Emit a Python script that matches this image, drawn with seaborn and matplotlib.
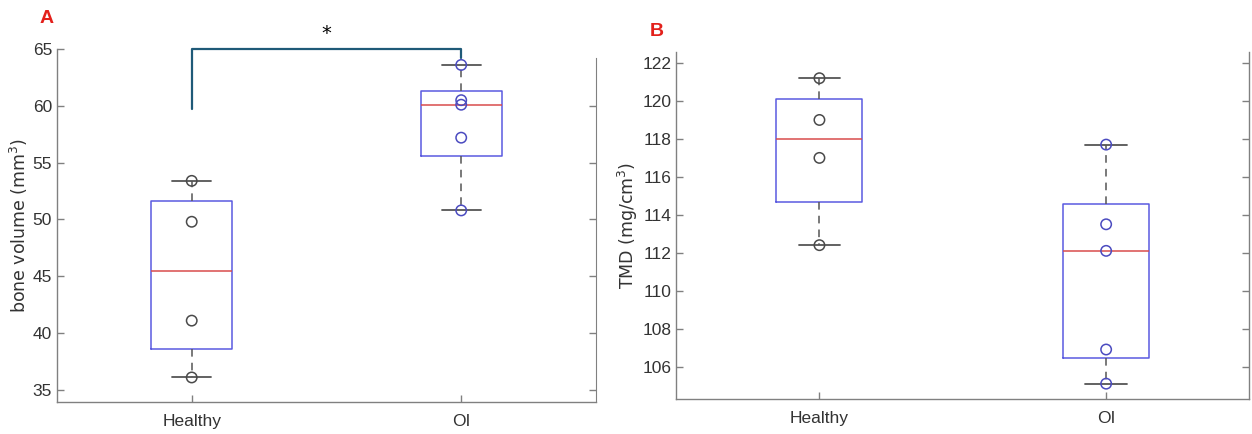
import numpy as np
import pandas as pd
import seaborn as sns
import matplotlib.pyplot as plt

sns.set_style('white')
plt.rcParams['font.family'] = ['Liberation Sans Narrow', 'Liberation Sans', 'DejaVu Sans']

groups = ['Healthy', 'OI']

# A: bone volume (mm^3)
bv_healthy = [53.4, 49.8, 41.1, 36.1]
bv_oi = [63.6, 60.5, 60.1, 57.2, 50.8]

# B: TMD (mg/cm^3)
tmd_healthy = [121.2, 119.0, 117.0, 112.4]
tmd_oi = [117.7, 113.5, 112.1, 106.9, 105.1]

bv_ticks = [35, 40, 45, 50, 55, 60, 65]
tmd_ticks = [106, 108, 110, 112, 114, 116, 118, 120, 122]

pt_colors = {'Healthy': '#4a4a4a', 'OI': '#4b4bc0'}
txt = '#333333'
spine_c = '#808080'


def matlab_stats(vals):
    # MATLAB boxplot uses midpoint ("hazen") quartiles
    v = np.sort(np.asarray(vals, dtype=float))
    q1, med, q3 = np.percentile(v, [25, 50, 75], method='hazen')
    iqr = q3 - q1
    lo = v[v >= q1 - 1.5 * iqr].min()
    hi = v[v <= q3 + 1.5 * iqr].max()
    return dict(med=med, q1=q1, q3=q3, whislo=lo, whishi=hi, fliers=[])


def panel(ax, healthy, oi, ylabel, ylim, yticks):
    df = pd.DataFrame({'group': ['Healthy'] * len(healthy) + ['OI'] * len(oi),
                       'value': list(healthy) + list(oi)})
    ax.bxp([matlab_stats(healthy), matlab_stats(oi)], positions=[0, 1],
           widths=0.30, capwidths=0.145, showfliers=False, manage_ticks=False,
           boxprops=dict(color='#5a5ae0', lw=1.1),
           medianprops=dict(color='#d94c4c', lw=1.1),
           whiskerprops=dict(color='#555555', lw=1.1, ls=(0, (5, 4))),
           capprops=dict(color='#555555', lw=1.3))
    sns.stripplot(data=df, x='group', y='value', hue='group', order=groups,
                  palette=pt_colors, jitter=False, size=7.5, legend=False,
                  zorder=5, ax=ax)
    for coll in ax.collections:
        fc = coll.get_facecolors()
        coll.set_edgecolors(fc)
        coll.set_facecolors('none')
        coll.set_linewidth(1.1)
    ax.set_xlim(-0.5, 1.5)
    ax.set_ylim(*ylim)
    ax.set_yticks(yticks)
    ax.set_xlabel('')
    ax.set_ylabel(ylabel, fontsize=12.5, color=txt, family=['DejaVu Sans'])
    ax.tick_params(direction='in', length=5, width=1, colors=spine_c,
                   labelcolor=txt, labelsize=12.5, right=True, left=True, bottom=True)
    ax.tick_params(axis='x', pad=9)
    ax.spines['top'].set_visible(False)
    for s in ['left', 'bottom', 'right']:
        ax.spines[s].set_color(spine_c)
        ax.spines[s].set_linewidth(1)


fig = plt.figure(figsize=(12.52, 4.34), dpi=100)
axA = fig.add_axes([0.0455, 0.074, 0.4305, 0.813])
axB = fig.add_axes([0.540, 0.081, 0.458, 0.800])

panel(axA, bv_healthy, bv_oi, 'bone volume (mm$^3$)', (33.95, 65.0), bv_ticks)
# right side of A stops short of the top: own ticks through a twin axis
axA.tick_params(right=False)
axA.spines['right'].set_visible(False)
twA = axA.twinx()
twA.set_ylim(axA.get_ylim())
twA.set_yticks(bv_ticks[:-1])
twA.tick_params(direction='in', length=5, width=1, colors=spine_c, labelright=False)
for s in ['left', 'top', 'bottom']:
    twA.spines[s].set_visible(False)
twA.spines['right'].set_color(spine_c)
twA.spines['right'].set_bounds(33.95, 64.2)
axA.yaxis.set_label_coords(-0.05, 0.5)

panel(axB, tmd_healthy, tmd_oi, 'TMD (mg/cm$^3$)', (104.3, 122.6), tmd_ticks)
axB.yaxis.set_label_coords(-0.063, 0.5)

# significance bracket
axA.plot([0, 0, 1, 1], [59.7, 65.0, 65.0, 64.2], color='#1f5a78', lw=1.6,
         clip_on=False, zorder=6)
axA.text(0.5, 66.4, '*', ha='center', va='center', fontsize=14, color='black',
         family=['DejaVu Sans'])

fig.text(0.0375, 0.958, 'A', color='#e3201b', fontsize=14, fontweight='bold',
         ha='center', va='center', family=['Liberation Sans', 'DejaVu Sans'])
fig.text(0.5245, 0.928, 'B', color='#e3201b', fontsize=14, fontweight='bold',
         ha='center', va='center', family=['Liberation Sans', 'DejaVu Sans'])

fig.savefig('out.png', dpi=100)
